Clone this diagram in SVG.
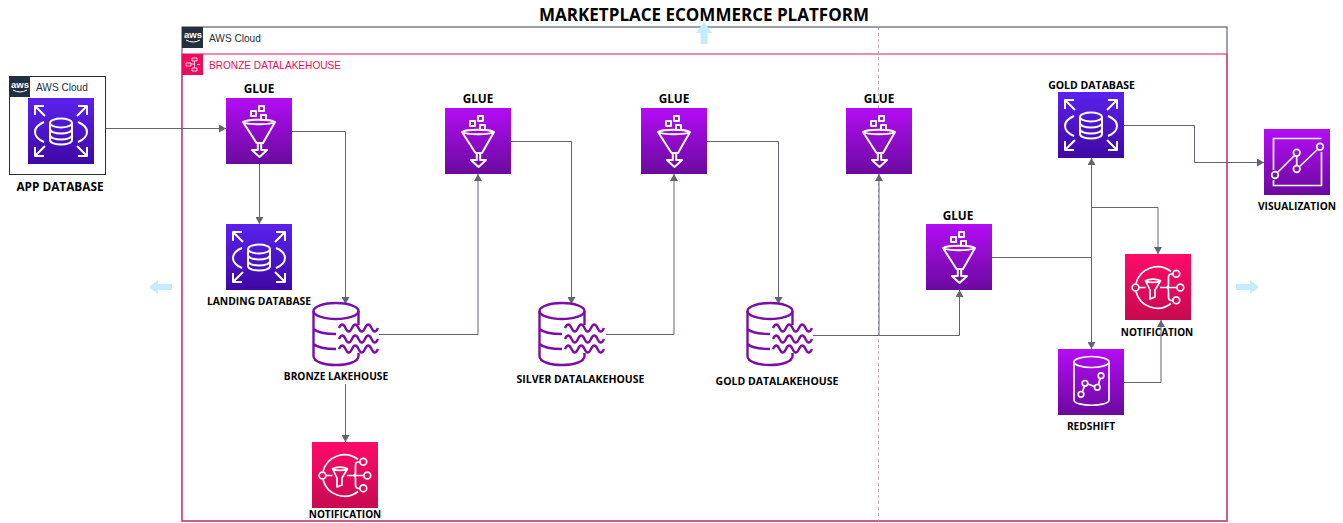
<svg xmlns="http://www.w3.org/2000/svg" width="1343" height="523" viewBox="0 0 1343 523">
<style>
text{font-family:"Open Sans","Noto Sans","Liberation Sans",sans-serif}
.lb{font-size:10.2px;font-weight:700;fill:#000;text-anchor:middle}
.ln{font-size:10px;font-weight:700;fill:#000;text-anchor:middle}
.lw{font-size:10.5px;font-weight:700;fill:#000;text-anchor:middle}
.gl{font-size:11.8px;font-weight:700;fill:#000;text-anchor:middle}
.hd{font-family:"Liberation Sans",sans-serif;font-size:10.1px}
.logo{font-family:"Liberation Sans",sans-serif;font-size:9.5px;font-weight:700;fill:#fff;text-anchor:middle}
.c{fill:none;stroke:#5f6670;stroke-width:1}
.i{fill:none;stroke:#fff;stroke-width:2;stroke-linejoin:round}
.s{fill:none;stroke:#fff;stroke-width:1.7;stroke-linejoin:round}
.lake{fill:none;stroke:#7a0fa8;stroke-width:2.4}
</style>
<defs>
<linearGradient id="pur" x1="0" y1="0" x2="0" y2="1"><stop offset="0" stop-color="#b40cf5"/><stop offset="1" stop-color="#6a0a9e"/></linearGradient>
<linearGradient id="blu" x1="0" y1="0" x2="0" y2="1"><stop offset="0" stop-color="#5a22ee"/><stop offset="1" stop-color="#3f08a4"/></linearGradient>
<linearGradient id="pnk" x1="0" y1="0" x2="0" y2="1"><stop offset="0" stop-color="#ff0a68"/><stop offset="1" stop-color="#c80a50"/></linearGradient>
<marker id="a" viewBox="0 0 8 8" refX="7" refY="4" markerWidth="8" markerHeight="8" orient="auto" markerUnits="userSpaceOnUse"><path d="M0 0L7 4L0 8Z" fill="#5f6670"/></marker>
<symbol id="glue" viewBox="0 0 66 66" overflow="visible">
<rect width="66" height="66" fill="url(#pur)"/>
<path class="i" d="M17 24C22 21 44 21 49 24C44 27 22 27 17 24ZM17 24L30.500 45H37L49 24"/>
<path class="i" d="M31.800 46V52H26L33.500 59L41 52H35.200V46"/>
<rect class="i" x="25" y="13" width="5" height="5"/><rect class="i" x="33" y="8" width="5" height="5"/><rect class="i" x="35" y="17" width="5" height="5"/>
</symbol>
<symbol id="rds" viewBox="0 0 66 66" overflow="visible">
<rect width="66" height="66" fill="url(#blu)"/>
<ellipse class="i" cx="33" cy="25" rx="11" ry="4.500"/>
<path class="i" d="M22 25V42C22 48 44 48 44 42V25M22 31C22 37 44 37 44 31M22 37C22 43 44 43 44 37"/>
<path class="i" d="M16 24C4 29 4 39 16 44M50 24C62 29 62 39 50 44"/>
<path class="i" d="M7 8L17 18M7 17V8H16M59 8L49 18M50 8H59V17M7 58L17 48M7 49V58H16M59 58L49 48M50 58H59V49"/>
</symbol>
<symbol id="sns" viewBox="0 0 66 66" overflow="visible">
<rect width="66" height="66" fill="url(#pnk)"/>
<path class="s" d="M11 29.500A22 22 0 0 1 46 17.500M11 37.500A22 22 0 0 0 46 49.500M14 33.500H20.500M35 33.500H52M48 20H46.500Q43.500 20 43.500 23V30.500Q43.500 33.500 41 33.500Q43.500 33.500 43.500 36.500V43Q43.500 46.500 46.500 46.500H48"/>
<circle class="s" cx="10.500" cy="33.500" r="3.400"/>
<circle class="s" cx="51.300" cy="19.700" r="3.400"/><circle class="s" cx="55.300" cy="33.500" r="3.400"/><circle class="s" cx="51.300" cy="46.300" r="3.400"/>
<path class="s" d="M20.500 26.700C24 24.500 32 24.500 35.500 26.700C32 29 24 29 20.500 26.700ZM20.500 26.700L25 36V45L30 43V36L35.500 26.700"/>
</symbol>
<symbol id="lake" viewBox="0 0 70 66" overflow="visible">
<ellipse class="lake" cx="24" cy="8" rx="22.500" ry="8"/>
<path class="lake" d="M1.500 8V53C1.500 65 46.500 65 46.500 53V50M46.500 8V22M1.500 26C6 30 15 31 24 31M1.500 41C6 45 15 46 24 46"/>
<path class="lake" d="M27 25q3.250-7 6.500 0t6.500 0t6.500 0t6.500 0t6.500 0t6.500 0M27 36q3.250-7 6.500 0t6.500 0t6.500 0t6.500 0t6.500 0t6.500 0M27 46q3.250-7 6.500 0t6.500 0t6.500 0t6.500 0t6.500 0t6.500 0"/>
</symbol>
</defs>
<rect width="1343" height="523" fill="#fff"/>
<text x="704" y="21" text-anchor="middle" font-size="17" font-weight="700" fill="#000">MARKETPLACE ECOMMERCE PLATFORM</text>
<g id="aws-cloud-main">
<rect x="182" y="27" width="1045" height="494" fill="none" stroke="#5a6270" stroke-width="1.200"/>
<rect x="182" y="27" width="21" height="21" fill="#232f3e"/>
<text x="193" y="38" class="logo">aws</text>
<path d="M186 40Q193 44 200 40" fill="none" stroke="#fff"/>
<text x="209" y="42" class="hd" fill="#232f3e">AWS Cloud</text>
</g>
<g id="bronze-datalakehouse">
<rect x="182" y="54" width="1045" height="467" fill="none" stroke="#ee2a72" stroke-width="1.300" stroke-opacity=".85"/>
<rect x="182" y="54" width="21" height="21" fill="#f00a5f"/>
<path d="M186 63h5v3h-5zM192 58h5v3h-5zM192 68h5v3h-5zM191 64h3M194.500 61v7M197 64.500h3" fill="none" stroke="#fff" stroke-width=".8"/>
<text x="209" y="69" class="hd" fill="#f00a5f">BRONZE DATALAKEHOUSE</text>
</g>
<line x1="878.500" y1="27" x2="878.500" y2="521" stroke="#bdb0b5" stroke-dasharray="3 3"/>
<g id="flow-arrows" fill="#c5ebff">
<path d="M704 22L712 33H707.500V44H700.500V33H696Z"/>
<path d="M149 287L158 280V284H172V290H158V294Z"/>
<path d="M1259 287L1250 280V284H1236V290H1250V294Z"/>
</g>
<g id="connectors">
<path class="c" marker-end="url(#a)" d="M106 128.500H226"/>
<path class="c" marker-end="url(#a)" d="M259.500 164V224"/>
<path class="c" marker-end="url(#a)" d="M292 131.500H345.500V304"/>
<path class="c" marker-end="url(#a)" d="M345.500 384V442"/>
<path class="c" marker-end="url(#a)" d="M379 334.500H478V174"/>
<path class="c" marker-end="url(#a)" d="M511 141.500H571.500V304"/>
<path class="c" marker-end="url(#a)" d="M606 334.500H674V174"/>
<path class="c" marker-end="url(#a)" d="M707 141.500H778.500V304"/>
<path class="c" marker-end="url(#a)" d="M813 335.500H879V174"/>
<path class="c" marker-end="url(#a)" d="M813 335.500H959.500V290"/>
<path class="c" marker-end="url(#a)" d="M992 257.500H1091.500V158"/>
<path class="c" marker-end="url(#a)" d="M1091.500 207.500H1158V254"/>
<path class="c" marker-end="url(#a)" d="M1091.500 257V349"/>
<path class="c" marker-end="url(#a)" d="M1124 125.500H1194.500V162.500H1264"/>
<path class="c" marker-end="url(#a)" d="M1124 382.500H1161V320"/>
</g>
<g id="app-database">
<rect x="9.500" y="76.500" width="96" height="98" fill="#fff" stroke="#232f3e"/>
<rect x="10" y="77" width="20" height="20" fill="#232f3e"/>
<text x="20" y="88" class="logo">aws</text>
<path d="M13 90Q20 94 27 90" fill="none" stroke="#fff"/>
<text x="36" y="91" class="hd" fill="#232f3e">AWS Cloud</text>
<use href="#rds" x="28" y="98" width="66" height="66"/>
<text x="60" y="191" class="gl">APP DATABASE</text>
</g>
<g id="glue-1"><use href="#glue" x="226" y="98" width="66" height="66"/><text x="259" y="93" class="gl">GLUE</text></g>
<g id="landing-database"><use href="#rds" x="226" y="224" width="66" height="66"/><text x="259" y="305" class="lw" style="font-size:10.3px">LANDING DATABASE</text></g>
<g id="bronze-lakehouse"><use href="#lake" x="312" y="303" width="70" height="66"/><text x="336" y="380" class="lb">BRONZE LAKEHOUSE</text></g>
<g id="notification-1"><use href="#sns" x="312" y="442" width="66" height="66"/><text x="345" y="518" class="ln">NOTIFICATION</text></g>
<g id="glue-2"><use href="#glue" x="445" y="108" width="66" height="66"/><text x="478" y="103" class="gl">GLUE</text></g>
<g id="silver-lakehouse"><use href="#lake" x="538" y="303" width="70" height="66"/><text x="580.500" y="383" class="lw">SILVER DATALAKEHOUSE</text></g>
<g id="glue-3"><use href="#glue" x="641" y="108" width="66" height="66"/><text x="674" y="103" class="gl">GLUE</text></g>
<g id="gold-lakehouse"><use href="#lake" x="746" y="303" width="70" height="66"/><text x="777" y="385" class="lw">GOLD DATALAKEHOUSE</text></g>
<g id="glue-4"><use href="#glue" x="846" y="108" width="66" height="66"/><text x="879" y="103" class="gl">GLUE</text></g>
<g id="glue-5"><use href="#glue" x="926" y="224" width="66" height="66"/><text x="958" y="220" class="gl">GLUE</text></g>
<g id="gold-database"><use href="#rds" x="1058" y="92" width="66" height="66"/><text x="1091.500" y="89" class="lw">GOLD DATABASE</text></g>
<g id="visualization"><rect x="1264" y="129" width="66" height="66" fill="url(#pur)"/>
<path class="s" d="M1273.500 170V138.500H1321.500M1321.500 152V185.500H1273.500V180M1277 173L1295 155M1296.700 156V166M1299 167L1318 149"/><circle class="s" cx="1275" cy="175" r="3.300"/><circle cx="1296.700" cy="152.700" r="3.300" class="s"/><circle cx="1296.700" cy="169" r="3.300" class="s"/><circle cx="1320" cy="146.700" r="3.300" class="s"/>
<text x="1297" y="210" class="lb">VISUALIZATION</text></g>
<g id="notification-2"><use href="#sns" x="1125" y="254" width="66" height="66"/><text x="1157" y="336" class="ln">NOTIFICATION</text></g>
<g id="redshift"><rect x="1058" y="349" width="66" height="66" fill="url(#pur)"/>
<ellipse class="s" cx="1091.500" cy="362" rx="17.500" ry="5.500"/><path class="s" d="M1074 362V400C1074 407 1109 407 1109 400V362"/>
<path class="s" d="M1082.500 391.500L1084.500 386M1088 384L1094.500 386.500M1098.500 384.500L1100 378.500"/><circle class="s" cx="1081" cy="394.300" r="2.800"/><circle class="s" cx="1085" cy="383.300" r="2.800"/><circle class="s" cx="1097.300" cy="387.300" r="2.800"/><circle class="s" cx="1101" cy="375.700" r="2.800"/>
<text x="1091" y="430" class="lb">REDSHIFT</text></g>
</svg>
